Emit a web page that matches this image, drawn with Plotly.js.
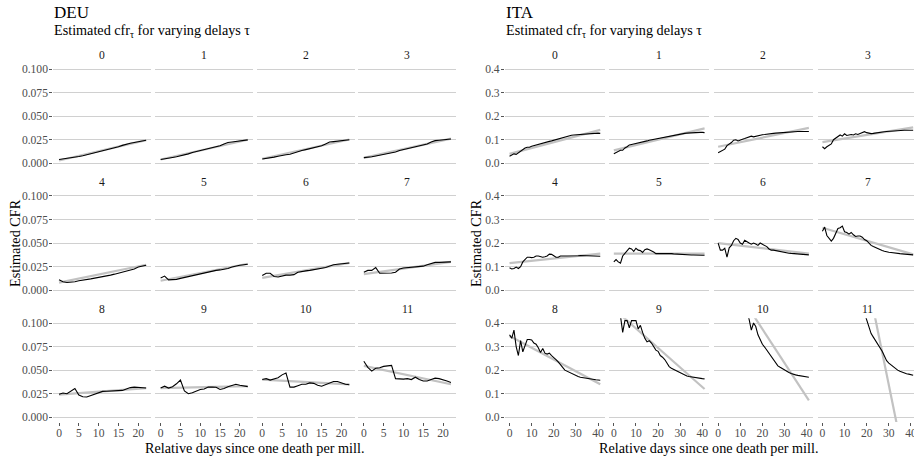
<!DOCTYPE html>
<html><head><meta charset="utf-8">
<script src="https://cdn.plot.ly/plotly-3.0.1.min.js"></script>
<style>html,body{margin:0;padding:0;background:#fff}#chart{width:914px;height:458px}</style>
</head><body><div id="chart"></div>
<script>
// ---------------- DATA ----------------
const delays = ['0','1','2','3','4','5','6','7','8','9','10','11'];

const DEU_days = [0,1,2,3,4,5,6,7,8,9,10,11,12,13,14,15,16,17,18,19,20,21,22];
const DEU_cfr = [
 [0.0040,0.0045,0.0050,0.0058,0.0065,0.0072,0.0080,0.0090,0.0105,0.0115,0.0125,0.0135,0.0145,0.0150,0.0160,0.0175,0.0190,0.0205,0.0212,0.0220,0.0228,0.0235,0.0245],
 [0.0040,0.0045,0.0055,0.0062,0.0070,0.0078,0.0085,0.0100,0.0115,0.0125,0.0135,0.0145,0.0155,0.0160,0.0170,0.0185,0.0205,0.0220,0.0225,0.0232,0.0238,0.0242,0.0248],
 [0.0045,0.0050,0.0060,0.0065,0.0075,0.0085,0.0090,0.0095,0.0110,0.0125,0.0135,0.0145,0.0155,0.0160,0.0170,0.0185,0.0205,0.0225,0.0230,0.0235,0.0240,0.0245,0.0250],
 [0.0060,0.0062,0.0070,0.0078,0.0085,0.0095,0.0105,0.0110,0.0120,0.0135,0.0145,0.0155,0.0165,0.0175,0.0180,0.0190,0.0205,0.0225,0.0240,0.0245,0.0248,0.0252,0.0258],
 [0.0110,0.0090,0.0082,0.0085,0.0090,0.0100,0.0105,0.0115,0.0120,0.0128,0.0135,0.0140,0.0150,0.0160,0.0170,0.0180,0.0190,0.0198,0.0210,0.0225,0.0245,0.0258,0.0265],
 [0.0130,0.0150,0.0110,0.0110,0.0115,0.0125,0.0135,0.0140,0.0150,0.0160,0.0170,0.0180,0.0190,0.0200,0.0210,0.0215,0.0220,0.0230,0.0245,0.0258,0.0265,0.0270,0.0275],
 [0.0155,0.0180,0.0180,0.0145,0.0140,0.0150,0.0160,0.0160,0.0165,0.0190,0.0200,0.0205,0.0210,0.0220,0.0230,0.0232,0.0240,0.0255,0.0270,0.0275,0.0278,0.0282,0.0288],
 [0.0190,0.0210,0.0210,0.0240,0.0180,0.0180,0.0180,0.0182,0.0190,0.0225,0.0235,0.0240,0.0240,0.0250,0.0255,0.0255,0.0270,0.0285,0.0295,0.0295,0.0295,0.0298,0.0300],
 [0.0245,0.0258,0.0250,0.0275,0.0305,0.0235,0.0218,0.0215,0.0230,0.0245,0.0265,0.0275,0.0276,0.0277,0.0278,0.0278,0.0285,0.0300,0.0315,0.0320,0.0315,0.0310,0.0310],
 [0.0310,0.0330,0.0310,0.0325,0.0355,0.0395,0.0280,0.0250,0.0260,0.0280,0.0295,0.0300,0.0320,0.0320,0.0318,0.0295,0.0305,0.0325,0.0340,0.0350,0.0340,0.0330,0.0325],
 [0.0400,0.0410,0.0395,0.0405,0.0420,0.0450,0.0470,0.0320,0.0320,0.0335,0.0350,0.0350,0.0365,0.0360,0.0340,0.0330,0.0345,0.0360,0.0380,0.0380,0.0365,0.0350,0.0345],
 [0.0595,0.0530,0.0490,0.0520,0.0525,0.0540,0.0545,0.0550,0.0410,0.0405,0.0405,0.0410,0.0400,0.0425,0.0400,0.0385,0.0385,0.0400,0.0415,0.0410,0.0400,0.0385,0.0370]
];
const DEU_fitStart = [0.0030,0.0040,0.0048,0.0058,0.0080,0.0100,0.0130,0.0170,0.0240,0.0310,0.0400,0.0545];
const DEU_fitEnd   = [0.0245,0.0250,0.0252,0.0262,0.0270,0.0280,0.0290,0.0300,0.0310,0.0330,0.0350,0.0350];

const ITA_days = [0,1,2,3,4,5,6,7,8,9,10,11,12,13,14,15,16,17,18,19,20,21,22,23,24,25,26,27,28,29,30,31,32,33,34,35,36,37,38,39,40,41];
const ITA_cfr = [
 [0.030,0.035,0.040,0.038,0.045,0.050,0.058,0.065,0.068,0.068,0.072,0.075,0.078,0.080,0.083,0.085,0.088,0.090,0.093,0.095,0.098,0.100,0.103,0.106,0.109,0.112,0.115,0.117,0.119,0.120,0.121,0.122,0.123,0.124,0.125,0.126,0.127,0.127,0.128,0.128,0.128,0.127],
 [0.040,0.045,0.050,0.055,0.055,0.065,0.070,0.078,0.080,0.082,0.082,0.085,0.088,0.090,0.092,0.095,0.098,0.100,0.102,0.104,0.106,0.108,0.110,0.112,0.114,0.116,0.118,0.120,0.122,0.124,0.125,0.126,0.127,0.128,0.129,0.130,0.131,0.131,0.131,0.131,0.131,0.130],
 [0.045,0.050,0.058,0.060,0.075,0.080,0.088,0.098,0.100,0.095,0.100,0.102,0.105,0.108,0.112,0.115,0.112,0.115,0.118,0.120,0.121,0.122,0.124,0.125,0.126,0.127,0.128,0.129,0.130,0.131,0.132,0.133,0.133,0.134,0.134,0.135,0.135,0.135,0.135,0.135,0.135,0.135],
 [0.070,0.062,0.070,0.075,0.082,0.100,0.108,0.115,0.120,0.115,0.125,0.118,0.120,0.122,0.120,0.125,0.122,0.127,0.132,0.134,0.130,0.127,0.126,0.127,0.129,0.131,0.132,0.133,0.134,0.135,0.136,0.137,0.138,0.138,0.139,0.139,0.139,0.140,0.140,0.140,0.140,0.140],
 [0.095,0.090,0.092,0.098,0.092,0.100,0.120,0.130,0.140,0.140,0.138,0.140,0.145,0.145,0.143,0.140,0.142,0.145,0.153,0.152,0.146,0.140,0.140,0.145,0.145,0.145,0.144,0.143,0.144,0.145,0.146,0.146,0.147,0.147,0.147,0.146,0.146,0.145,0.145,0.145,0.144,0.144],
 [0.120,0.130,0.120,0.115,0.145,0.155,0.165,0.178,0.175,0.165,0.178,0.170,0.168,0.160,0.172,0.175,0.172,0.168,0.162,0.155,0.155,0.157,0.158,0.157,0.156,0.155,0.155,0.154,0.153,0.152,0.152,0.151,0.151,0.150,0.150,0.149,0.149,0.148,0.148,0.148,0.148,0.148],
 [0.200,0.170,0.170,0.178,0.140,0.180,0.190,0.210,0.220,0.215,0.200,0.195,0.212,0.205,0.200,0.195,0.200,0.196,0.190,0.200,0.195,0.190,0.185,0.175,0.170,0.170,0.168,0.166,0.163,0.160,0.159,0.158,0.157,0.156,0.155,0.154,0.153,0.152,0.151,0.150,0.150,0.150],
 [0.250,0.268,0.232,0.220,0.208,0.220,0.240,0.262,0.265,0.272,0.248,0.245,0.238,0.245,0.235,0.228,0.230,0.230,0.225,0.215,0.210,0.200,0.190,0.185,0.180,0.177,0.172,0.168,0.165,0.162,0.161,0.160,0.158,0.157,0.156,0.155,0.154,0.153,0.152,0.151,0.150,0.150],
 [0.350,0.335,0.370,0.300,0.262,0.325,0.278,0.300,0.330,0.330,0.328,0.315,0.310,0.295,0.275,0.292,0.272,0.268,0.272,0.262,0.255,0.245,0.235,0.225,0.212,0.200,0.195,0.190,0.186,0.182,0.178,0.173,0.170,0.168,0.166,0.164,0.162,0.161,0.160,0.159,0.158,0.157],
 [0.560,0.520,0.480,0.430,0.360,0.410,0.410,0.380,0.410,0.410,0.410,0.375,0.390,0.360,0.335,0.320,0.325,0.315,0.300,0.285,0.280,0.262,0.255,0.245,0.230,0.215,0.208,0.203,0.198,0.193,0.188,0.183,0.178,0.175,0.173,0.171,0.170,0.168,0.166,0.165,0.164,0.163],
 [0.900,0.860,0.820,0.780,0.740,0.700,0.660,0.620,0.590,0.560,0.530,0.500,0.480,0.450,0.415,0.370,0.400,0.385,0.350,0.330,0.310,0.298,0.285,0.272,0.258,0.242,0.228,0.218,0.212,0.206,0.200,0.195,0.190,0.186,0.182,0.180,0.178,0.176,0.174,0.172,0.171,0.170],
 [1.400,1.340,1.280,1.220,1.160,1.100,1.040,0.980,0.920,0.860,0.800,0.750,0.700,0.650,0.610,0.570,0.530,0.500,0.470,0.440,0.410,0.390,0.355,0.340,0.325,0.312,0.298,0.280,0.260,0.240,0.230,0.222,0.214,0.206,0.200,0.195,0.191,0.188,0.185,0.183,0.180,0.178]
];
const ITA_fitStart = [0.040,0.055,0.070,0.090,0.115,0.155,0.200,0.265,0.345,0.460,0.662,1.520];
const ITA_fitEnd   = [0.142,0.148,0.150,0.152,0.155,0.155,0.155,0.152,0.140,0.120,0.072,-0.370];

// ---------------- LAYOUT ----------------
const W = 914, H = 458;
const FONT = 'Liberation Serif';
const rowsTop = [64.3, 191.2, 318.3], rowH = 103.7;

const countries = [
  {name:'DEU', days:DEU_days, cfr:DEU_cfr, f0:DEU_fitStart, f1:DEU_fitEnd,
   left:53.3, step:101.6, width:98, xr:[-1.45,23.3], yr:[-0.005,0.105],
   xt:[0,5,10,15,20], yt:[0,0.025,0.05,0.075,0.1], yfmt:'.3f', ylabX:15},
  {name:'ITA', days:ITA_days, cfr:ITA_cfr, f0:ITA_fitStart, f1:ITA_fitEnd,
   left:505, step:104.3, width:99.8, xr:[-2.05,43.05], yr:[-0.02,0.42],
   xt:[0,10,20,30,40], yt:[0,0.1,0.2,0.3,0.4], yfmt:'.1f', ylabX:476}
];

const traces = [], annotations = [];
const layout = {
  width: W, height: H, margin:{l:0,r:0,t:0,b:0},
  paper_bgcolor:'#ffffff', plot_bgcolor:'rgba(0,0,0,0)', showlegend:false,
  font:{family:FONT, color:'#000'}
};

countries.forEach((c, ci) => {
  for (let p = 0; p < 12; p++) {
    const k = ci*12 + p + 1;
    const row = Math.floor(p/4), col = p % 4;
    let l = c.left + col*c.step, r = l + c.width;
    let xr = c.xr.slice();
    if (r > W) { // panel runs past the page edge: keep same scale, clip domain
      const pxPer = c.width/(c.xr[1]-c.xr[0]);
      xr[1] = c.xr[0] + (W - l)/pxPer; r = W;
    }
    const top = rowsTop[row], bot = top + rowH;
    const xa = 'xaxis' + (k===1?'':k), ya = 'yaxis' + (k===1?'':k);
    const xs = 'x' + (k===1?'':k), ys = 'y' + (k===1?'':k);
    const bottomRow = row === 2, firstCol = col === 0;
    layout[xa] = {
      domain:[l/W, r/W], range:xr, anchor:ys, showgrid:false, zeroline:false, showline:false,
      tickmode:'array', tickvals:c.xt, showticklabels:bottomRow, ticklabeloverflow:'allow',
      ticklabelstandoff:-3,
      ticks: bottomRow ? 'outside' : '', ticklen:3, tickwidth:1, tickcolor:'#555',
      tickfont:{family:FONT, size:11.6, color:'#4d4d4d'}, fixedrange:true
    };
    layout[ya] = {
      domain:[1-bot/H, 1-top/H], range:c.yr, anchor:xs, showgrid:true, gridcolor:'#d0d0d0', gridwidth:1,
      zeroline:false, showline:false, tickmode:'array', tickvals:c.yt, tickformat:c.yfmt,
      ticklabelstandoff:-1,
      showticklabels:firstCol, ticks: firstCol ? 'outside' : '', ticklen:3, tickwidth:1, tickcolor:'#555',
      tickfont:{family:FONT, size:11.6, color:'#4d4d4d'}, fixedrange:true
    };
    // fitted line (grey)
    const xs0 = c.days[0], xs1 = c.days[c.days.length-1];
    traces.push({x:[xs0, xs1], y:[c.f0[p], c.f1[p]], xaxis:xs, yaxis:ys, type:'scatter', mode:'lines',
      line:{color:'#c2c2c2', width:2.2}, hoverinfo:'skip'});
    // estimated cfr (black)
    traces.push({x:c.days, y:c.cfr[p], xaxis:xs, yaxis:ys, type:'scatter', mode:'lines',
      line:{color:'#000', width:1.1}, hoverinfo:'skip'});
    // strip label
    annotations.push({text:delays[p], xref:'paper', yref:'paper', x:((l + c.left + col*c.step + c.width)/2)/W,
      y:1-(top-9)/H, xanchor:'center', yanchor:'middle', showarrow:false,
      font:{family:FONT, size:11.6, color:'#1a1a1a'}});
  }
  const panelsL = c.left, panelsR = c.left + 3*c.step + c.width;
  annotations.push({text:c.name, xref:'paper', yref:'paper', x:(c.left-1)/W, y:1-12.5/H,
    xanchor:'left', yanchor:'middle', showarrow:false, font:{family:FONT, size:17, color:'#000'}});
  annotations.push({text:'Estimated cfr<sub>τ</sub> for varying delays τ', xref:'paper', yref:'paper',
    x:(c.left-1)/W, y:1-31.5/H, xanchor:'left', yanchor:'middle', showarrow:false,
    font:{family:FONT, size:14.2, color:'#000'}});
  annotations.push({text:'Relative days since one death per mill.', xref:'paper', yref:'paper',
    x:((panelsL+panelsR)/2 - (ci===1?3:0))/W, y:1-447.5/H, xanchor:'center', yanchor:'middle', showarrow:false,
    font:{family:FONT, size:14.2, color:'#000'}});
  annotations.push({text:'Estimated CFR', xref:'paper', yref:'paper', x:c.ylabX/W, y:1-243/H,
    xanchor:'center', yanchor:'middle', textangle:-90, showarrow:false,
    font:{family:FONT, size:14.2, color:'#000'}});
});
layout.annotations = annotations;

Plotly.newPlot('chart', traces, layout, {displayModeBar:false, staticPlot:true});
</script></body></html>
